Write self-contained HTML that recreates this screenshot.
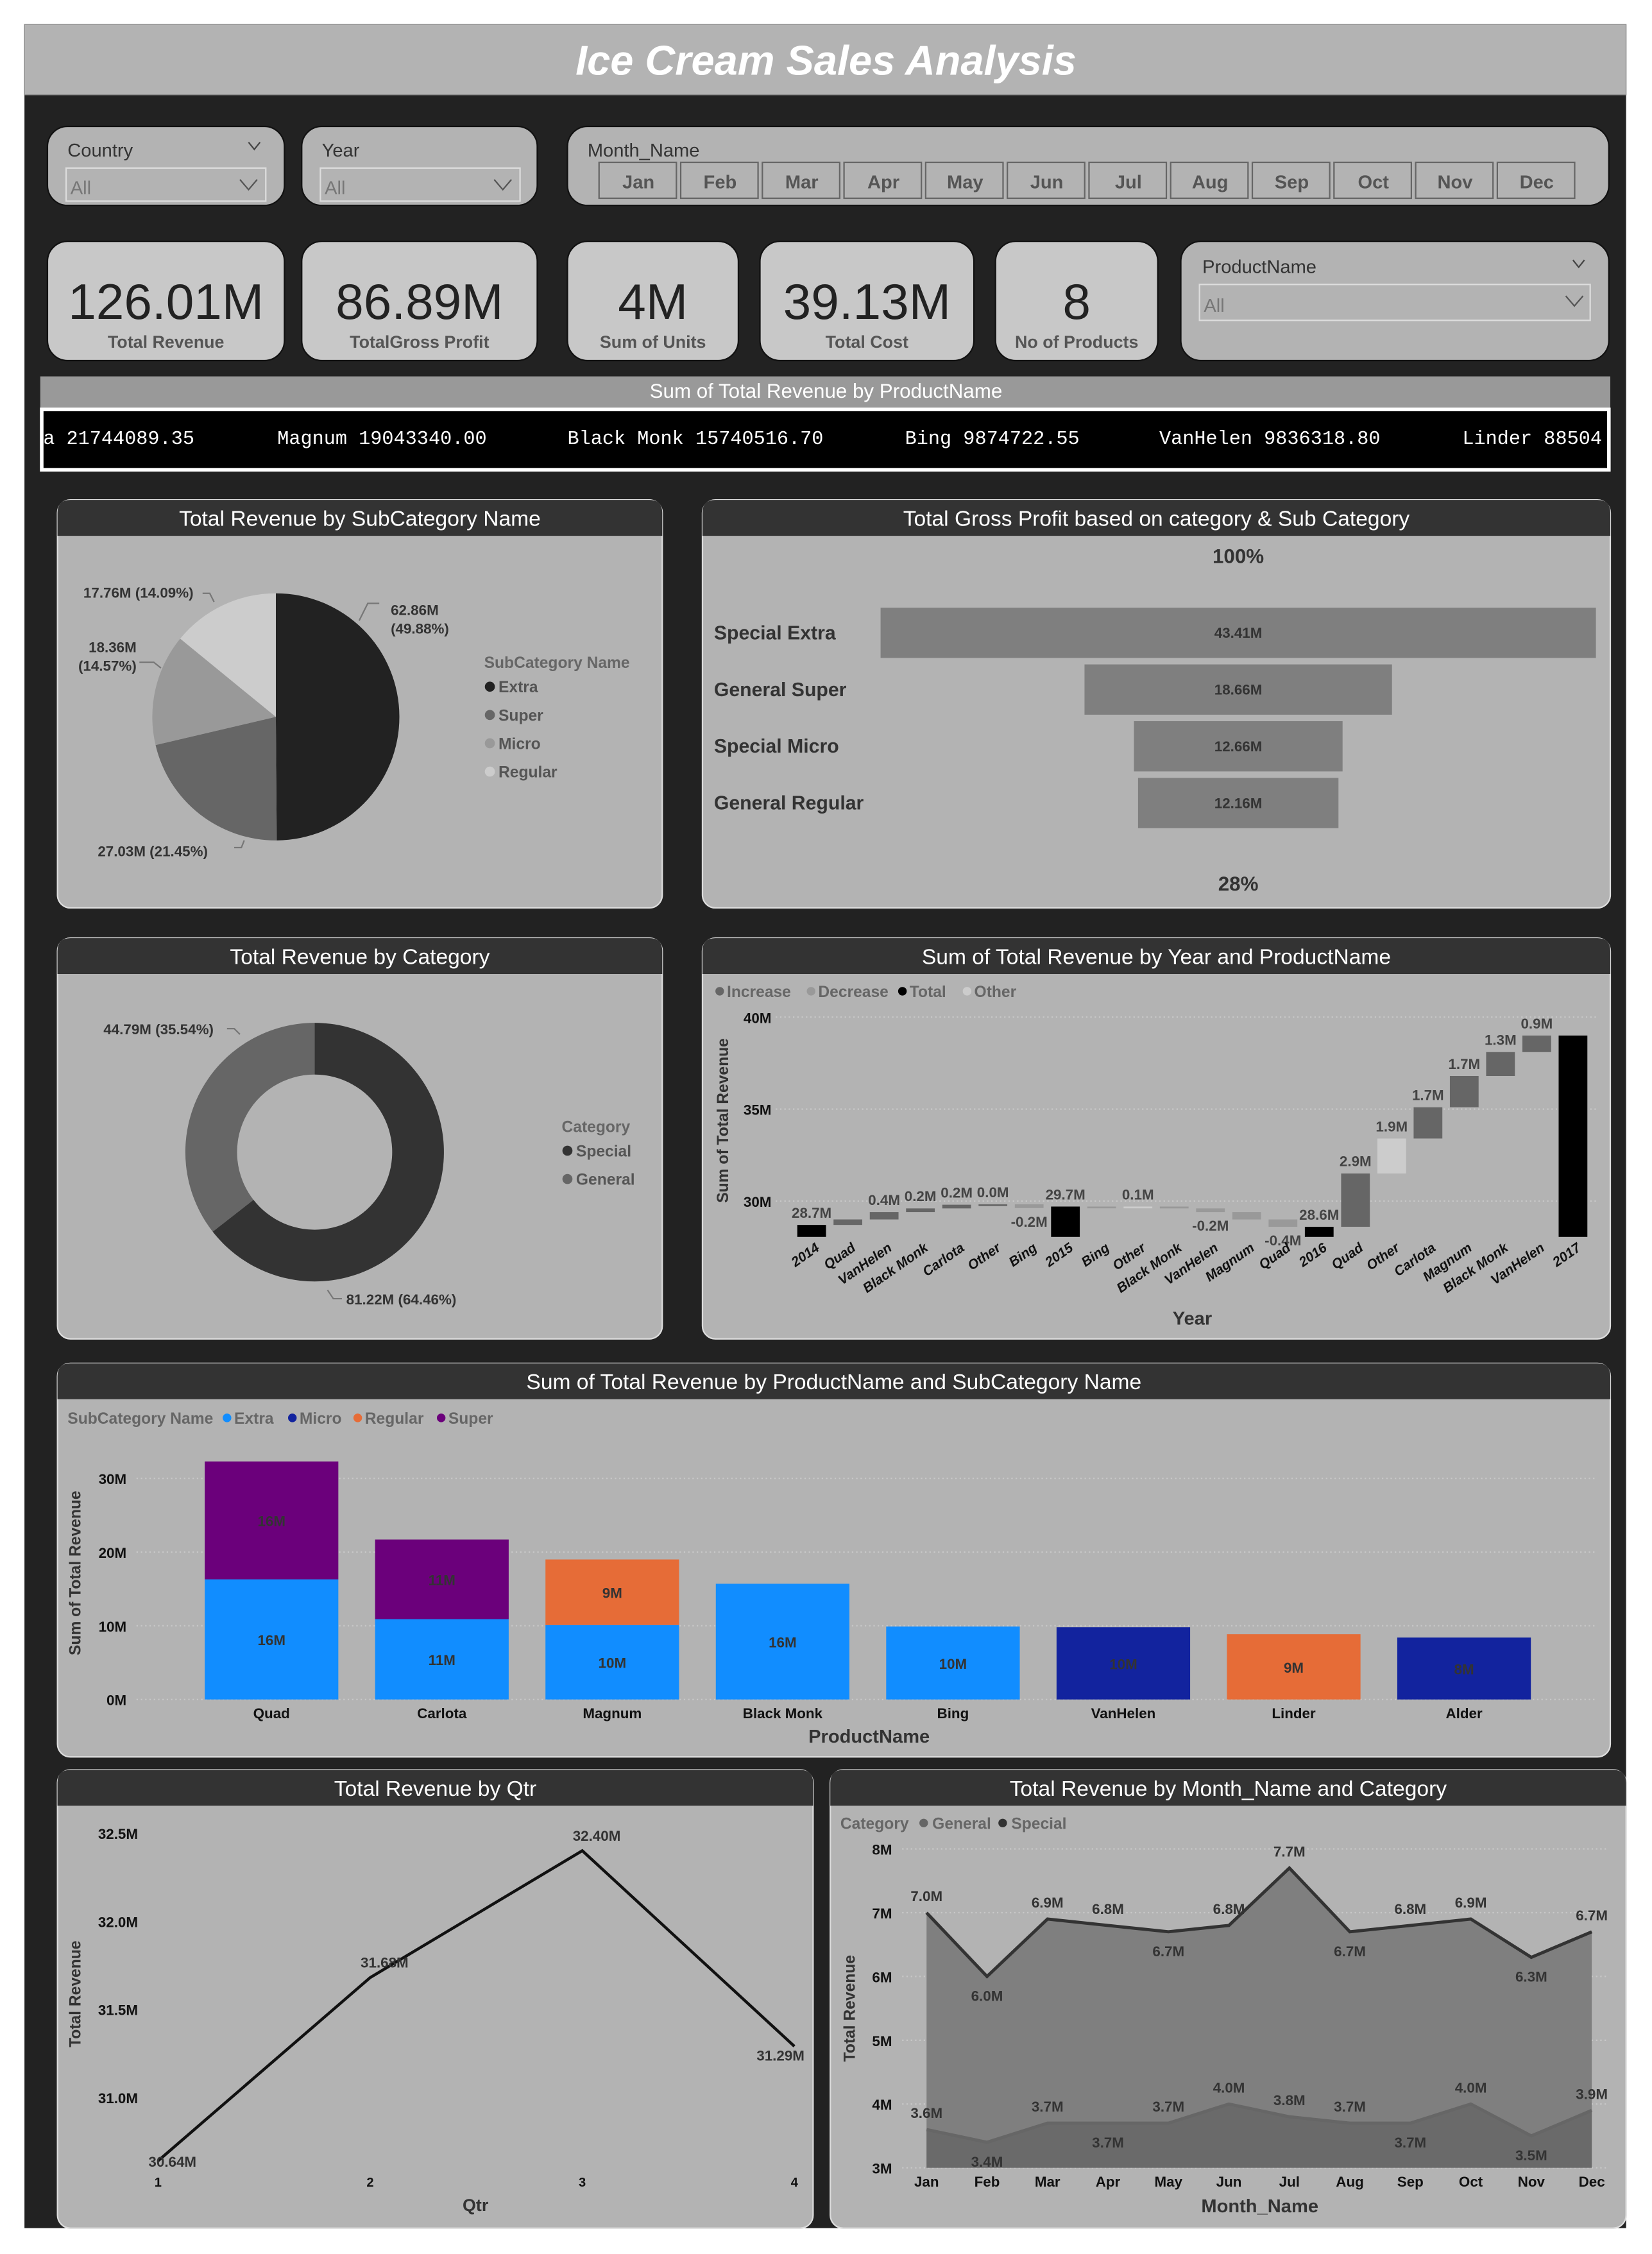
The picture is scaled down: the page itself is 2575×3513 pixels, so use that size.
<!DOCTYPE html>
<html><head><meta charset="utf-8"><title>Ice Cream Sales Analysis</title>
<style>
html,body{margin:0;padding:0;background:#fff;}
svg{display:block;font-family:"Liberation Sans",sans-serif;}
</style></head>
<body>
<svg id="dash" width="2575" height="3513" viewBox="0 0 1150 1569" xmlns="http://www.w3.org/2000/svg">
<rect x="0" y="0" width="1150" height="1569" fill="#fff"/>
<rect x="17" y="17" width="1115" height="1534" fill="#222"/>
<rect x="17" y="17" width="1115" height="49" fill="#b3b3b3" stroke="#888" stroke-width="0.6"/>
<text x="575" y="52" text-anchor="middle" font-size="29" font-weight="bold" font-style="italic" fill="#fff">Ice Cream Sales Analysis</text>

<!-- slicers -->
<g>
<rect x="33" y="88" width="165" height="55" rx="14" fill="#b3b3b3" stroke="#111"/>
<text x="47" y="109" font-size="13" fill="#333">Country</text>
<path d="M173 99 l4 5 l4 -5" fill="none" stroke="#444"/>
<rect x="46" y="117" width="139" height="23" fill="#b3b3b3" stroke="#ddd"/>
<text x="49" y="135" font-size="13" fill="#777">All</text>
<path d="M167 125 l6 7 l6 -7" fill="none" stroke="#555"/>
</g>
<g>
<rect x="210" y="88" width="164" height="55" rx="14" fill="#b3b3b3" stroke="#111"/>
<text x="224" y="109" font-size="13" fill="#333">Year</text>
<rect x="223" y="117" width="139" height="23" fill="#b3b3b3" stroke="#ddd"/>
<text x="226" y="135" font-size="13" fill="#777">All</text>
<path d="M344 125 l6 7 l6 -7" fill="none" stroke="#555"/>
</g>
<g>
<rect x="395" y="88" width="725" height="55" rx="14" fill="#b3b3b3" stroke="#111"/>
<text x="409" y="109" font-size="13" fill="#333">Month_Name</text>
<g id="months"></g>
</g>

<!-- KPI cards -->
<g id="kpis"></g>
<g>
<rect x="822" y="168" width="298" height="83" rx="14" fill="#b3b3b3" stroke="#111"/>
<text x="837" y="190" font-size="13" fill="#333">ProductName</text>
<path d="M1095 181 l4 5 l4 -5" fill="none" stroke="#444"/>
<rect x="835" y="198" width="272" height="25" fill="#b3b3b3" stroke="#ddd"/>
<text x="838" y="217" font-size="13" fill="#777">All</text>
<path d="M1090 206 l6 7 l6 -7" fill="none" stroke="#555"/>
</g>

<!-- ticker -->
<g>
<rect x="28" y="262" width="1093" height="22" fill="#999"/>
<text x="575" y="277" text-anchor="middle" font-size="14" fill="#fff">Sum of Total Revenue by ProductName</text>
<rect x="29" y="285" width="1091" height="42" fill="#000" stroke="#fff" stroke-width="2.5"/>
<clipPath id="tk"><rect x="31" y="286" width="1088" height="40"/></clipPath>
<g clip-path="url(#tk)" font-family="Liberation Mono, monospace" font-size="13.5" fill="#fff">
<text x="30" y="309">a 21744089.35</text>
<text x="193" y="309">Magnum 19043340.00</text>
<text x="395" y="309">Black Monk 15740516.70</text>
<text x="630" y="309">Bing 9874722.55</text>
<text x="807" y="309">VanHelen 9836318.80</text>
<text x="1018" y="309">Linder 88504</text>
</g>
</g>

<g id="panels"></g>
<g id="pie"></g>
<g id="funnel"></g>
<g id="donut"></g>
<g id="waterfall"></g>
<g id="stacked"></g>
<g id="qtr"></g>
<g id="monthchart"></g>
</svg>

<script>
// ===== DATA =====
const monthNames = ["Jan","Feb","Mar","Apr","May","Jun","Jul","Aug","Sep","Oct","Nov","Dec"];
const kpiValues = ["126.01M","86.89M","4M","39.13M","8"];
const kpiLabels = ["Total Revenue","TotalGross Profit","Sum of Units","Total Cost","No of Products"];

const pieLabels = ["Extra","Super","Micro","Regular"];
const pieValues = [62.86, 27.03, 18.36, 17.76];

const funnelLabels = ["Special Extra","General Super","Special Micro","General Regular"];
const funnelValues = [43.41, 18.66, 12.66, 12.16];

const donutLabels = ["Special","General"];
const donutValues = [81.22, 44.79];

const wfCategories = ["2014","Quad","VanHelen","Black Monk","Carlota","Other","Bing","2015","Bing","Other","Black Monk","VanHelen","Magnum","Quad","2016","Quad","Other","Carlota","Magnum","Black Monk","VanHelen","2017"];
const wfTypes = ["total","inc","inc","inc","inc","inc","dec","total","dec","other","dec","dec","dec","dec","total","inc","other","inc","inc","inc","inc","total"];
const wfValues = [28.7,0.3,0.4,0.2,0.2,0.02,-0.2,29.7,-0.05,0.05,-0.1,-0.2,-0.4,-0.4,28.6,2.9,1.9,1.7,1.7,1.3,0.9,39.0];
const wfLabels = ["28.7M","","0.4M","0.2M","0.2M","0.0M","-0.2M","29.7M","","0.1M","","-0.2M","","-0.4M","28.6M","2.9M","1.9M","1.7M","1.7M","1.3M","0.9M",""];
const wfTicks = [30,35,40];

const products = ["Quad","Carlota","Magnum","Black Monk","Bing","VanHelen","Linder","Alder"];
const extraVals = [16.3,10.9,10.1,15.7,9.9,0,0,0];
const microVals = [0,0,0,0,0,9.8,0,8.4];
const regularVals = [0,0,8.9,0,0,0,8.85,0];
const superVals = [16.0,10.8,0,0,0,0,0,0];
const stackTicks = [0,10,20,30];

const qtrs = ["1","2","3","4"];
const qtrValues = [30.64,31.68,32.40,31.29];
const qtrTicks = [31.0,31.5,32.0,32.5];

const specialMonthly = [7.0,6.0,6.9,6.8,6.7,6.8,7.7,6.7,6.8,6.9,6.3,6.7];
const generalMonthly = [3.6,3.4,3.7,3.7,3.7,4.0,3.8,3.7,3.7,4.0,3.5,3.9];
const monthTicks = [3,4,5,6,7,8];

// ===== helpers =====
const NS="http://www.w3.org/2000/svg";
function mk(parent,tag,attrs,text){const e=document.createElementNS(NS,tag);for(const k in attrs)e.setAttribute(k,attrs[k]);if(text!==undefined)e.textContent=text;parent.appendChild(e);return e;}
const G=id=>document.getElementById(id);

// month buttons
(function(){const g=G('months');const x0=416,w=56.85;
monthNames.forEach((m,i)=>{const b=mk(g,'g',{});


mk(b,'rect',{x:x0+i*w+1,y:113,width:w-3,height:25,fill:'#b3b3b3',stroke:'#666'});
mk(b,'text',{x:x0+i*w+w/2,y:131,'text-anchor':'middle','font-size':13,'font-weight':'bold',fill:'#555'},m);});})();

// KPI cards
(function(){const g=G('kpis');const xs=[[33,198],[210,374],[395,514],[529,678],[693,806]];
xs.forEach((p,i)=>{const c=mk(g,'g',{});


mk(c,'rect',{x:p[0],y:168,width:p[1]-p[0],height:83,rx:14,fill:'#c8c8c8',stroke:'#111'});
const cx=(p[0]+p[1])/2;
mk(c,'text',{x:cx,y:222,'text-anchor':'middle','font-size':35,fill:'#222'},kpiValues[i]);
mk(c,'text',{x:cx,y:242,'text-anchor':'middle','font-size':12,'font-weight':'bold',fill:'#555'},kpiLabels[i]);});})();

// panels
(function(){const g=G('panels');
const P=[["subcategory-pie-panel","Total Revenue by SubCategory Name",40,348,461,632],
["gross-profit-funnel-panel","Total Gross Profit based on category & Sub Category",489,348,1121,632],
["category-donut-panel","Total Revenue by Category",40,653,461,932],
["year-waterfall-panel","Sum of Total Revenue by Year and ProductName",489,653,1121,932],
["product-stacked-bar-panel","Sum of Total Revenue by ProductName and SubCategory Name",40,949,1121,1223],
["qtr-line-panel","Total Revenue by Qtr",40,1232,566,1551],
["month-area-panel","Total Revenue by Month_Name and Category",578,1232,1132,1551]];
P.forEach(p=>{const c=mk(g,'g',{});


const w=p[4]-p[2],h=p[5]-p[3];
mk(c,'rect',{x:p[2],y:p[3],width:w,height:h,rx:9,fill:'#b3b3b3',stroke:'#ddd','stroke-width':1});
mk(c,'path',{d:`M${p[2]} ${p[3]+25} V${p[3]+9} Q${p[2]} ${p[3]} ${p[2]+9} ${p[3]} H${p[4]-9} Q${p[4]} ${p[3]} ${p[4]} ${p[3]+9} V${p[3]+25} Z`,fill:'#333'});
const t=mk(c,'text',{x:(p[2]+p[4])/2,y:p[3]+18,'text-anchor':'middle','font-size':15,fill:'#fff'},p[1]);

});})();

function polar(cx,cy,r,a){return [cx+r*Math.sin(a),cy-r*Math.cos(a)];}

// pie
(function(){const g=G('pie');const cx=192,cy=499,r=86;const cols=['#222','#666','#999','#ccc'];
const tot=pieValues.reduce((a,b)=>a+b,0);let a=0;
pieValues.forEach((v,i)=>{const a2=a+v/tot*2*Math.PI;const p1=polar(cx,cy,r,a),p2=polar(cx,cy,r,a2);
const s=mk(g,'path',{d:`M${cx} ${cy} L${p1[0]} ${p1[1]} A${r} ${r} 0 ${a2-a>Math.PI?1:0} 1 ${p2[0]} ${p2[1]} Z`,fill:cols[i]});

a=a2;});
const lab=[[272,428,'start',[ (62.86).toFixed(2)+'M','('+(pieValues[0]/tot*100).toFixed(2)+'%)']],[68,596,'start',[pieValues[1].toFixed(2)+'M ('+(pieValues[1]/tot*100).toFixed(2)+'%)']],[95,454,'end',[pieValues[2].toFixed(2)+'M','('+(pieValues[2]/tot*100).toFixed(2)+'%)']],[58,416,'start',[pieValues[3].toFixed(2)+'M ('+(pieValues[3]/tot*100).toFixed(2)+'%)']]];
lab.forEach((l,i)=>{l[3].forEach((t,j)=>{const e=mk(g,'text',{x:l[0],y:l[1]+j*13,'text-anchor':l[2],'font-size':10,'font-weight':'bold',fill:'#333'},t);

});});
mk(g,'path',{d:'M264 420 h-8 l-6 12',fill:'none',stroke:'#777'});
mk(g,'path',{d:'M163 590 h5 l2 -5',fill:'none',stroke:'#777'});
mk(g,'path',{d:'M97 461 h10 l5 4',fill:'none',stroke:'#777'});
mk(g,'path',{d:'M141 413 h5 l3 6',fill:'none',stroke:'#777'});
mk(g,'text',{x:337,y:465,'font-size':11,'font-weight':'bold',fill:'#666'},'SubCategory Name');
pieLabels.forEach((n,i)=>{const it=mk(g,'g',{});


mk(it,'circle',{cx:341,cy:478+i*19.7,r:3.5,fill:cols[i]});
mk(it,'text',{x:347,y:482+i*19.7,'font-size':11,'font-weight':'bold',fill:'#555'},n);});})();

// funnel
(function(){const g=G('funnel');const cx=862,sc=498/43.41;
mk(g,'text',{x:cx,y:392,'text-anchor':'middle','font-size':14,'font-weight':'bold',fill:'#333'},'100%');
funnelValues.forEach((v,i)=>{const y=423+i*39.5,w=v*sc;
const r=mk(g,'rect',{x:cx-w/2,y:y,width:w,height:35,fill:'#7f7f7f'});


mk(g,'text',{x:cx,y:y+21,'text-anchor':'middle','font-size':10,'font-weight':'bold',fill:'#333'},v.toFixed(2)+'M');
mk(g,'text',{x:497,y:y+22,'font-size':13.5,'font-weight':'bold',fill:'#333'},funnelLabels[i]);});
mk(g,'text',{x:cx,y:620,'text-anchor':'middle','font-size':14,'font-weight':'bold',fill:'#333'},Math.round(funnelValues[3]/funnelValues[0]*100)+'%');})();

// donut
(function(){const g=G('donut');const cx=219,cy=802,r=90,ri=54;const cols=['#333','#666'];
const tot=donutValues.reduce((a,b)=>a+b,0);let a=0;
donutValues.forEach((v,i)=>{const a2=a+v/tot*2*Math.PI;const p1=polar(cx,cy,r,a),p2=polar(cx,cy,r,a2),q1=polar(cx,cy,ri,a2),q2=polar(cx,cy,ri,a);const lg=a2-a>Math.PI?1:0;
const s=mk(g,'path',{d:`M${p1[0]} ${p1[1]} A${r} ${r} 0 ${lg} 1 ${p2[0]} ${p2[1]} L${q1[0]} ${q1[1]} A${ri} ${ri} 0 ${lg} 0 ${q2[0]} ${q2[1]} Z`,fill:cols[i]});

a=a2;});
mk(g,'text',{x:241,y:908,'font-size':10,'font-weight':'bold',fill:'#333'},donutValues[0].toFixed(2)+'M ('+(donutValues[0]/tot*100).toFixed(2)+'%)');
mk(g,'text',{x:72,y:720,'font-size':10,'font-weight':'bold',fill:'#333'},donutValues[1].toFixed(2)+'M ('+(donutValues[1]/tot*100).toFixed(2)+'%)');
mk(g,'path',{d:'M238 904 h-6 l-4 -6',fill:'none',stroke:'#777'});
mk(g,'path',{d:'M158 716 h5 l4 4',fill:'none',stroke:'#777'});
mk(g,'text',{x:391,y:788,'font-size':11,'font-weight':'bold',fill:'#666'},'Category');
donutLabels.forEach((n,i)=>{const it=mk(g,'g',{});


mk(it,'circle',{cx:395,cy:801+i*19.7,r:3.5,fill:cols[i]});
mk(it,'text',{x:401,y:805+i*19.7,'font-size':11,'font-weight':'bold',fill:'#555'},n);});})();

// waterfall
(function(){const g=G('waterfall');const y0v=28.05,py=12.8,yb=861;const Y=v=>yb-(v-y0v)*py;
const x0=565,step=25.24,bw=20;const X=i=>x0+i*step;
const lg=[["Increase","#666"],["Decrease","#999"],["Total","#000"],["Other","#ccc"]];let lx=498;
lg.forEach(l=>{mk(g,'circle',{cx:lx+3,cy:690,r:3,fill:l[1]});const t=mk(g,'text',{x:lx+8,y:694,'font-size':11,'font-weight':'bold',fill:'#666'},l[0]);lx+=8+l[0].length*6.2+6;});
wfTicks.forEach(t=>{mk(g,'line',{x1:540,x2:1112,y1:Y(t),y2:Y(t),stroke:'#c8c8c8','stroke-dasharray':'1 2'});
mk(g,'text',{x:537,y:Y(t)+4,'text-anchor':'end','font-size':10,'font-weight':'bold',fill:'#111'},t+'M');});
const cols={total:'#000',inc:'#666',dec:'#999',other:'#ccc'};
let run=0;
wfValues.forEach((v,i)=>{let lo,hi;const ty=wfTypes[i];
if(ty==='total'){run=v;lo=y0v;hi=v;}else{const s=run;run+=v;lo=Math.min(s,run);hi=Math.max(s,run);}
const h=Math.max((hi-lo)*py,1.2);
const r=mk(g,'rect',{x:X(i)-bw/2,y:Y(hi),width:bw,height:h,fill:cols[ty]});


if(wfLabels[i]){const ly=v<0&&ty!=='total'?Y(lo)+13:Y(hi)-5;
mk(g,'text',{x:X(i),y:ly,'text-anchor':'middle','font-size':10,'font-weight':'bold',fill:'#444'},wfLabels[i]);}
const tx=X(i)+6,tyy=870;
mk(g,'text',{x:tx,y:tyy,'text-anchor':'end','font-size':9.5,'font-weight':'bold','font-style':'italic',fill:'#111',transform:`rotate(-35 ${tx} ${tyy})`},wfCategories[i]);});
mk(g,'text',{x:507,y:780,'text-anchor':'middle','font-size':11,'font-weight':'bold',fill:'#333',transform:'rotate(-90 507 780)'},'Sum of Total Revenue');
mk(g,'text',{x:830,y:922,'text-anchor':'middle','font-size':13,'font-weight':'bold',fill:'#333'},'Year');})();

// stacked bar
(function(){const g=G('stacked');const yb=1183,py=5.13;const Y=v=>yb-v*py;const x0=189,step=118.6,bw=93;
const series=[["Extra",extraVals,'#118dff'],["Micro",microVals,'#12239e'],["Regular",regularVals,'#e66c37'],["Super",superVals,'#6b007b']];
mk(g,'text',{x:47,y:991,'font-size':11,'font-weight':'bold',fill:'#666'},'SubCategory Name');let lx=155;
series.forEach(s=>{mk(g,'circle',{cx:lx+3,cy:987,r:3,fill:s[2]});mk(g,'text',{x:lx+8,y:991,'font-size':11,'font-weight':'bold',fill:'#666'},s[0]);lx+=8+s[0].length*6.3+6;});
stackTicks.forEach(t=>{mk(g,'line',{x1:95,x2:1110,y1:Y(t),y2:Y(t),stroke:'#c8c8c8','stroke-dasharray':'1 2'});
mk(g,'text',{x:88,y:Y(t)+4,'text-anchor':'end','font-size':10,'font-weight':'bold',fill:'#111'},t+'M');});
products.forEach((p,i)=>{let base=0;const cx=x0+i*step;
series.forEach(s=>{const v=s[1][i];if(!v)return;
const r=mk(g,'rect',{x:cx-bw/2,y:Y(base+v),width:bw,height:v*py,fill:s[2]});


mk(g,'text',{x:cx,y:Y(base+v/2)+4,'text-anchor':'middle','font-size':10,'font-weight':'bold',fill:'#333'},Math.round(v)+'M');
base+=v;});
mk(g,'text',{x:cx,y:1196,'text-anchor':'middle','font-size':10,'font-weight':'bold',fill:'#111'},p);});
mk(g,'text',{x:56,y:1095,'text-anchor':'middle','font-size':11,'font-weight':'bold',fill:'#333',transform:'rotate(-90 56 1095)'},'Sum of Total Revenue');
mk(g,'text',{x:605,y:1213,'text-anchor':'middle','font-size':13,'font-weight':'bold',fill:'#333'},'ProductName');})();

// qtr line
(function(){const g=G('qtr');const Y=v=>1276+(32.5-v)*122.67;const X=i=>110+i*147.67;
qtrTicks.forEach(t=>{mk(g,'text',{x:96,y:Y(t)+4,'text-anchor':'end','font-size':10,'font-weight':'bold',fill:'#111'},t.toFixed(1)+'M');});
const pts=qtrValues.map((v,i)=>X(i)+','+Y(v)).join(' ');
const l=mk(g,'polyline',{points:pts,fill:'none',stroke:'#111','stroke-width':2});


qtrValues.forEach((v,i)=>{const lx=i===3?X(i)+6:X(i)+10;const ly=i===0?Y(v)+4:(i===3?Y(v)+10:Y(v)-7);
mk(g,'text',{x:i===3?X(i)+7:X(i)+10,y:ly,'text-anchor':i===3?'end':'middle','font-size':10,'font-weight':'bold',fill:'#333'},v.toFixed(2)+'M');
mk(g,'text',{x:X(i),y:1522,'text-anchor':'middle','font-size':9,'font-weight':'bold',fill:'#111'},qtrs[i]);});
mk(g,'text',{x:56,y:1388,'text-anchor':'middle','font-size':11,'font-weight':'bold',fill:'#333',transform:'rotate(-90 56 1388)'},'Total Revenue');
mk(g,'text',{x:331,y:1539,'text-anchor':'middle','font-size':12,'font-weight':'bold',fill:'#333'},'Qtr');})();

// month area
(function(){const g=G('monthchart');const Y=v=>1509-(v-3)*44.4;const X=i=>645+i*42.1;
mk(g,'text',{x:585,y:1273,'font-size':11,'font-weight':'bold',fill:'#666'},'Category');
mk(g,'circle',{cx:643,cy:1269,r:3,fill:'#666'});mk(g,'text',{x:649,y:1273,'font-size':11,'font-weight':'bold',fill:'#666'},'General');
mk(g,'circle',{cx:698,cy:1269,r:3,fill:'#333'});mk(g,'text',{x:704,y:1273,'font-size':11,'font-weight':'bold',fill:'#666'},'Special');
monthTicks.forEach(t=>{mk(g,'line',{x1:628,x2:1120,y1:Y(t),y2:Y(t),stroke:'#c8c8c8','stroke-dasharray':'1 2'});
mk(g,'text',{x:621,y:Y(t)+4,'text-anchor':'end','font-size':10,'font-weight':'bold',fill:'#111'},t+'M');});
function area(vals,fill,stroke,name){const pts=vals.map((v,i)=>X(i)+','+Y(v)).join(' ');
const a=mk(g,'polygon',{points:`${X(0)},${Y(3)} ${pts} ${X(11)},${Y(3)}`,fill:fill});


const l=mk(g,'polyline',{points:pts,fill:'none',stroke:stroke,'stroke-width':2.2});

}
area(specialMonthly,'#7f7f7f','#333','special');
area(generalMonthly,'#6a6a6a','#666','general');
const sUp=[1,0,1,1,0,1,1,0,1,1,0,1],gUp=[1,0,1,0,1,1,1,1,0,1,0,1];
specialMonthly.forEach((v,i)=>{mk(g,'text',{x:X(i),y:sUp[i]?Y(v)-8:Y(v)+17,'text-anchor':'middle','font-size':10,'font-weight':'bold',fill:'#333'},v.toFixed(1)+'M');});
generalMonthly.forEach((v,i)=>{mk(g,'text',{x:X(i),y:gUp[i]?Y(v)-8:Y(v)+17,'text-anchor':'middle','font-size':10,'font-weight':'bold',fill:'#333'},v.toFixed(1)+'M');
mk(g,'text',{x:X(i),y:1522,'text-anchor':'middle','font-size':10,'font-weight':'bold',fill:'#111'},monthNames[i]);});
mk(g,'text',{x:595,y:1398,'text-anchor':'middle','font-size':11,'font-weight':'bold',fill:'#333',transform:'rotate(-90 595 1398)'},'Total Revenue');
mk(g,'text',{x:877,y:1540,'text-anchor':'middle','font-size':13,'font-weight':'bold',fill:'#333'},'Month_Name');})();
</script>
</body></html>
